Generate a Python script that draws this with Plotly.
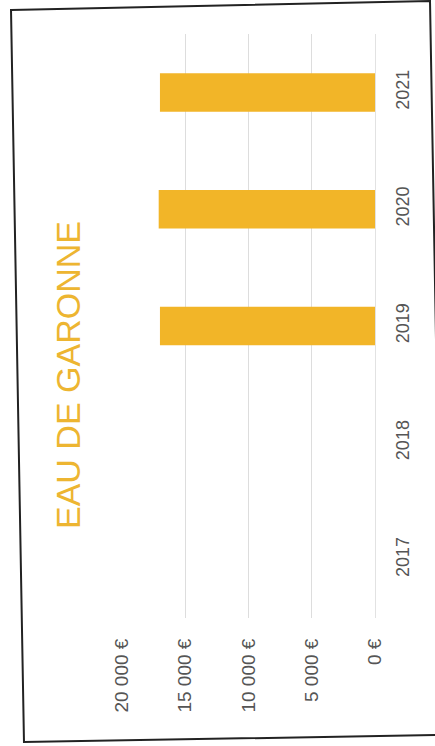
import plotly.graph_objects as go

years = ["2017", "2018", "2019", "2020", "2021"]
values = [None, None, 17000, 17100, 17000]
value_ticks = [0, 5000, 10000, 15000, 20000]
value_tick_labels = ["0 €", "5 000 €", "10 000 €", "15 000 €", "20 000 €"]
title_text = "EAU DE GARONNE"

W, H = 435, 746
ML, MR, MT, MB = 122, 60, 34, 128
PW, PH = W - ML - MR, H - MT - MB

def px(x):
    return (x - ML) / PW

def py(y):
    return (H - MB - y) / PH

fig = go.Figure()
fig.add_trace(go.Bar(
    y=years, x=values, orientation="h",
    marker=dict(color="#F2B528", line=dict(width=0)),
))

frame_pts = [(11, 10), (430, 1), (443, 735), (24, 742)]
path = "M " + " L ".join(f"{px(a):.4f},{py(b):.4f}" for a, b in frame_pts) + " Z"

fig.update_layout(
    width=W, height=H,
    margin=dict(l=ML, r=MR, t=MT, b=MB),
    paper_bgcolor="white", plot_bgcolor="white",
    showlegend=False,
    bargap=0.67,
    font=dict(family="Liberation Sans", color="#555555"),
    xaxis=dict(
        range=[20000, 0], autorange=False,
        tickvals=value_ticks, ticktext=value_tick_labels,
        tickangle=-90, tickfont=dict(size=19, color="#555555"),
        showgrid=True, gridcolor="#DDDDDD", gridwidth=1,
        zeroline=False, showline=False,
        ticks="outside", ticklen=12, tickcolor="rgba(0,0,0,0)",
        automargin=False, fixedrange=True,
    ),
    yaxis=dict(
        categoryorder="array", categoryarray=years,
        side="right", tickangle=-90,
        tickfont=dict(size=18, color="#555555"),
        showgrid=False, zeroline=False,
        showline=True, linecolor="#E2E2E2", linewidth=1,
        ticks="outside", ticklen=11, tickcolor="rgba(0,0,0,0)",
        automargin=False, fixedrange=True,
    ),
    shapes=[dict(type="path", path=path, xref="paper", yref="paper",
                 line=dict(color="#222222", width=2), layer="above")],
    annotations=[dict(
        text=title_text, textangle=-90,
        x=px(68), y=py(375), xref="paper", yref="paper",
        xanchor="center", yanchor="middle", showarrow=False,
        font=dict(family="Liberation Sans", size=34, color="#EDB531"),
    )],
)

fig.write_html("out.html", config={"displayModeBar": False},
               post_script="document.body.style.margin='0';")
